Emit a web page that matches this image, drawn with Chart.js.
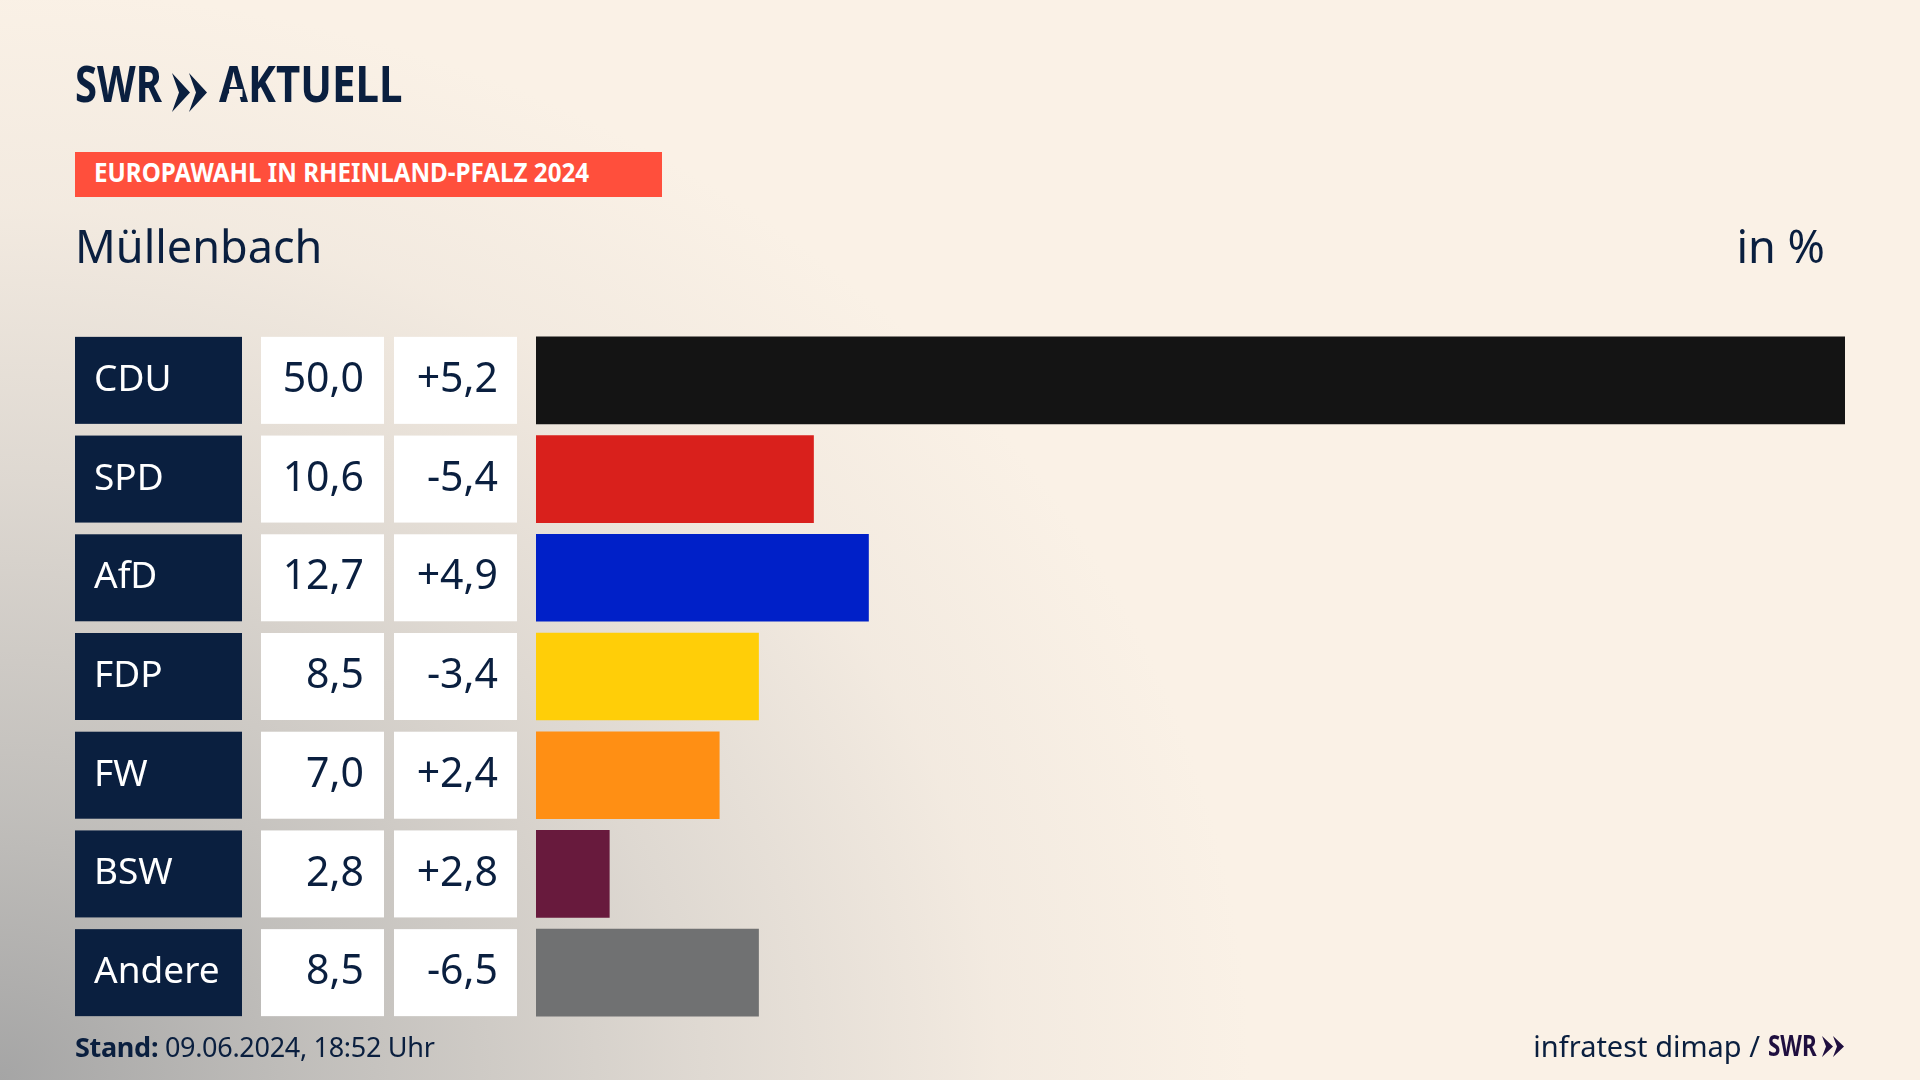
<!DOCTYPE html>
<html lang="de"><head><meta charset="utf-8">
<script src="https://cdn.jsdelivr.net/npm/chart.js@4/dist/chart.umd.js"></script>
<style>
html,body{margin:0;padding:0;width:1920px;height:1080px;overflow:hidden}
body{position:relative;background-color:#faf1e6;
background-image:radial-gradient(ellipse 1250px 1090px at 0px 1080px,rgba(165,165,165,1) 0%,rgba(190,188,185,.95) 25%,rgba(215,210,204,.8) 55%,rgba(235,227,218,.5) 80%,rgba(250,241,230,0) 100%);
font-family:"Noto Sans",sans-serif;color:#0a1f3f}
canvas{position:absolute;left:0;top:0}
.t{position:absolute;white-space:nowrap;line-height:1}
.logo{font-weight:700;font-size:50px;transform-origin:0 0}
.a{position:relative;display:inline-block}
.a i{position:absolute;left:12px;width:16px;top:31px;height:8px;background:#f8efe5}
svg{position:absolute}
</style></head><body>
<canvas id="c" width="1920" height="1080"></canvas>
<div class="t logo" style="left:75px;top:58px;transform:scaleX(.8)">SWR</div>
<svg style="left:170px;top:72px" width="40" height="41" viewBox="0 0 40 41"><polygon fill="#0a1f3f" points="2,1 20,20.5 2,40 9,20.5"/><polygon fill="#0a1f3f" points="19,1 37,20.5 19,40 26,20.5"/></svg>
<div class="t logo" id="akt" style="left:219px;top:58px;transform:scaleX(.84)"><span class="a">A<i></i></span>KTUELL</div>
<div class="t" style="left:75px;top:152px;width:587px;height:45px;background:#ff4f3c"></div>
<div class="t" id="tag" style="left:94px;top:159px;font-size:26px;font-weight:700;color:#fff;transform-origin:0 0;transform:scaleX(.93)">EUROPAWAHL IN RHEINLAND-PFALZ 2024</div>
<div class="t" style="left:75px;top:223px;font-size:45px">Müllenbach</div>
<div class="t" style="right:95px;top:223px;font-size:45px">in %</div>
<div class="t" style="left:75px;top:1033px;font-size:27px;letter-spacing:-.3px"><b>Stand:</b> 09.06.2024, 18:52 Uhr</div>
<div class="t" style="right:160px;top:1031px;font-size:29px">infratest dimap /</div>
<div class="t" style="left:1768px;top:1031px;font-size:28px;font-weight:700;color:#1f0f3f;transform-origin:0 0;transform:scaleX(.8)">SWR</div>
<svg style="left:1822px;top:1035px" width="24" height="23" viewBox="0 0 24 23"><polygon fill="#1f0f3f" points="0,1 11,11.5 0,22 4,11.5"/><polygon fill="#1f0f3f" points="11,1 22,11.5 11,22 15,11.5"/></svg>
<script>
const parties = ["CDU","SPD","AfD","FDP","FW","BSW","Andere"];
const shares = [50.0,10.6,12.7,8.5,7.0,2.8,8.5];
const changes = [5.2,-5.4,4.9,-3.4,2.4,2.8,-6.5];
const colors = ["#141414","#d9201c","#0020c8","#ffce08","#ff8f14","#681a3d","#707172"];
const fmt = v => v.toFixed(1).replace(".",",");
const fmtChange = v => (v>0?"+":"")+fmt(v);
const cells = {
  id:"cells",
  beforeDatasetsDraw(chart){
    const {ctx,scales:{y}}=chart, h=87;
    ctx.save();
    ctx.textBaseline="middle";
    parties.forEach((p,i)=>{
      const cy=y.getPixelForValue(i), top=cy-h/2;
      ctx.fillStyle="#0a1f3f"; ctx.fillRect(75,top,167,h);
      ctx.fillStyle="#fff"; ctx.fillRect(261,top,123,h); ctx.fillRect(394,top,123,h);
      ctx.font='37px "Noto Sans"'; ctx.textAlign="left"; ctx.fillStyle="#fff";
      ctx.fillText(p,94,cy);
      ctx.font='41px "Noto Sans"'; ctx.textAlign="right"; ctx.fillStyle="#0a1f3f";
      ctx.fillText(fmt(shares[i]),364,cy);
      ctx.fillText(fmtChange(changes[i]),498,cy);
    });
    ctx.restore();
  }
};
new Chart(document.getElementById("c"),{
  type:"bar",
  data:{labels:parties,datasets:[{data:shares,backgroundColor:colors,barThickness:87,borderWidth:0}]},
  options:{
    indexAxis:"y",responsive:false,animation:false,devicePixelRatio:1,
    layout:{padding:{left:536,right:75,top:331,bottom:58}},
    plugins:{legend:{display:false},tooltip:{enabled:false},title:{display:false}},
    scales:{
      x:{display:false,min:0,max:50},
      y:{display:false,offset:true}
    }
  },
  plugins:[cells]
});
</script>
</body></html>
